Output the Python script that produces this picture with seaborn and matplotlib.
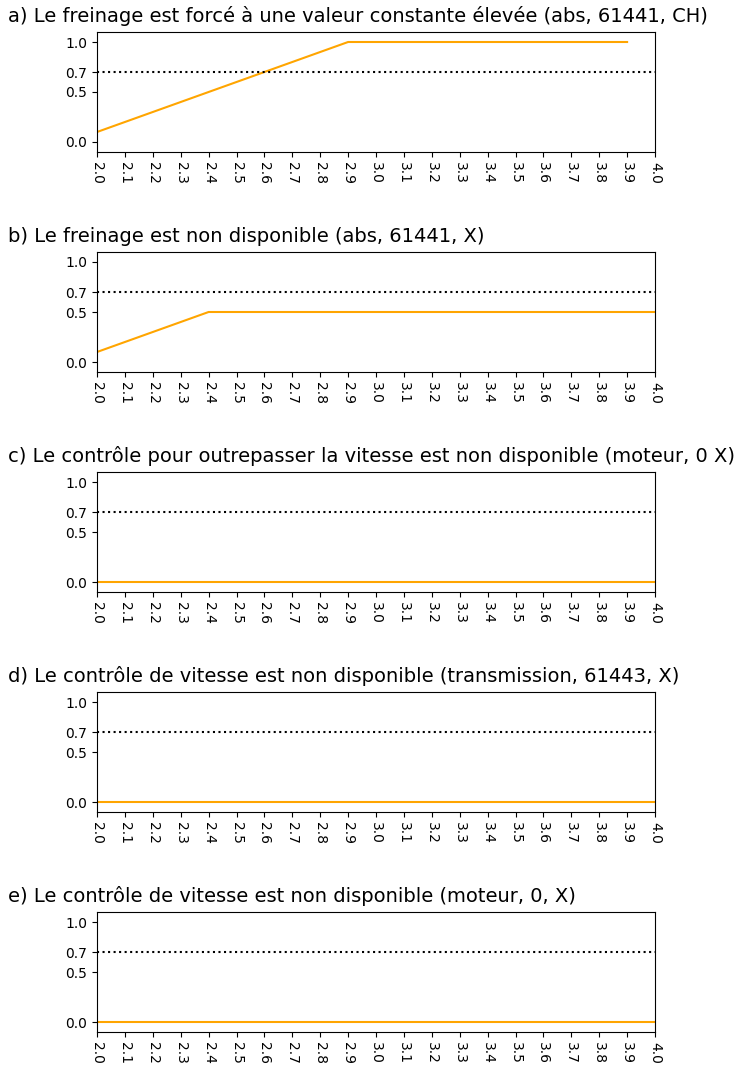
import matplotlib
matplotlib.use("Agg")
import matplotlib.pyplot as plt
import seaborn as sns
import pandas as pd

titles = [
    "a) Le freinage est forcé à une valeur constante élevée (abs, 61441, CH)",
    "b) Le freinage est non disponible (abs, 61441, X)",
    "c) Le contrôle pour outrepasser la vitesse est non disponible (moteur, 0 X)",
    "d) Le contrôle de vitesse est non disponible (transmission, 61443, X)",
    "e) Le contrôle de vitesse est non disponible (moteur, 0, X)",
]

x_a = [2.0, 2.1, 2.2, 2.3, 2.4, 2.5, 2.6, 2.7, 2.8, 2.9, 3.0, 3.1, 3.2, 3.3, 3.4, 3.5, 3.6, 3.7, 3.8, 3.9]
y_a = [0.1, 0.2, 0.3, 0.4, 0.5, 0.6, 0.7, 0.8, 0.9, 1.0, 1.0, 1.0, 1.0, 1.0, 1.0, 1.0, 1.0, 1.0, 1.0, 1.0]
x_full = [2.0, 2.1, 2.2, 2.3, 2.4, 2.5, 2.6, 2.7, 2.8, 2.9, 3.0, 3.1, 3.2, 3.3, 3.4, 3.5, 3.6, 3.7, 3.8, 3.9, 4.0]
y_b = [0.1, 0.2, 0.3, 0.4, 0.5, 0.5, 0.5, 0.5, 0.5, 0.5, 0.5, 0.5, 0.5, 0.5, 0.5, 0.5, 0.5, 0.5, 0.5, 0.5, 0.5]
y_c = [0.0] * 21
y_d = [0.0] * 21
y_e = [0.0] * 21

series = [(x_a, y_a), (x_full, y_b), (x_full, y_c), (x_full, y_d), (x_full, y_e)]
threshold = 0.7
xticks = [2.0, 2.1, 2.2, 2.3, 2.4, 2.5, 2.6, 2.7, 2.8, 2.9, 3.0, 3.1, 3.2, 3.3, 3.4, 3.5, 3.6, 3.7, 3.8, 3.9, 4.0]
yticks = [0.0, 0.5, 0.7, 1.0]

W, H = 735, 1071
fig = plt.figure(figsize=(W / 100, H / 100), dpi=100)

left_px, right_px = 97, 655
top0, ax_h, step = 32, 120, 220

for i, (title, (xs, ys)) in enumerate(zip(titles, series)):
    top = top0 + i * step
    ax = fig.add_axes([left_px / W, 1 - (top + ax_h) / H, (right_px - left_px) / W, ax_h / H])
    df = pd.DataFrame({"x": xs, "y": ys})
    sns.lineplot(data=df, x="x", y="y", ax=ax, color="orange", linewidth=1.5)
    ax.axhline(threshold, color="black", linestyle=":", linewidth=1.5)
    ax.set_xlim(2.0, 4.0)
    ax.set_ylim(-0.1, 1.1)
    ax.set_xticks(xticks)
    ax.set_xticklabels([f"{t:.1f}" for t in xticks], rotation=270)
    ax.set_yticks(yticks)
    ax.set_yticklabels([f"{t:.1f}" for t in yticks])
    ax.set_xlabel("")
    ax.set_ylabel("")
    fig.text(8 / W, 1 - (top - 10) / H, title, fontsize=14, ha="left", va="baseline")

fig.savefig("out.png", dpi=100)
